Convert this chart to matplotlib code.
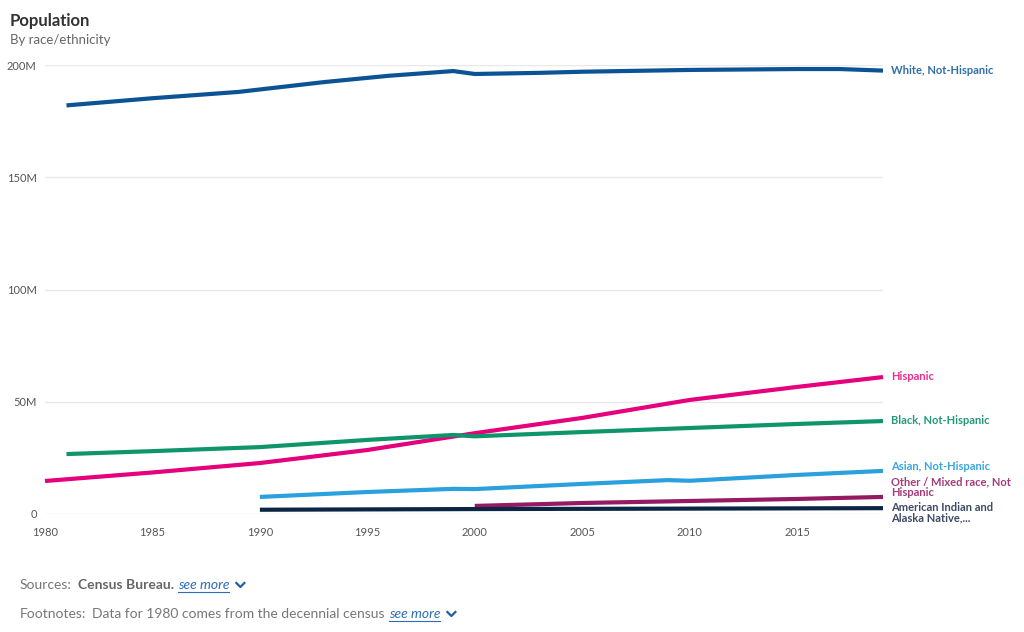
import matplotlib
matplotlib.use("Agg")
import matplotlib.pyplot as plt
from matplotlib.lines import Line2D

plt.rcParams['font.family'] = ['Lato', 'DejaVu Sans']

# population in millions
white_years = [1981, 1985, 1989, 1993, 1996, 1999, 2000, 2003, 2005, 2010, 2015, 2017, 2019]
white_vals = [182.0, 185.2, 188.0, 192.4, 195.2, 197.3, 196.0, 196.5, 197.0, 197.8, 198.2, 198.2, 197.5]

hisp_years = [1980, 1985, 1990, 1995, 2000, 2005, 2010, 2015, 2019]
hisp_vals = [14.7, 18.5, 22.7, 28.5, 36.0, 42.8, 50.8, 56.6, 61.0]

black_years = [1981, 1985, 1990, 1995, 1999, 2000, 2005, 2010, 2015, 2019]
black_vals = [26.7, 28.0, 29.8, 33.0, 35.2, 34.6, 36.5, 38.3, 40.1, 41.4]

asian_years = [1990, 1995, 1999, 2000, 2005, 2009, 2010, 2015, 2019]
asian_vals = [7.6, 9.8, 11.2, 11.1, 13.4, 15.1, 14.8, 17.4, 19.2]

other_years = [2000, 2005, 2010, 2015, 2019]
other_vals = [3.6, 4.9, 5.8, 6.7, 7.6]

amind_years = [1990, 2000, 2010, 2019]
amind_vals = [1.9, 2.2, 2.4, 2.6]

series = [
    ("White, Not-Hispanic", white_years, white_vals, "#0b5394", "#2f6ea8", [70]),
    ("Hispanic", hisp_years, hisp_vals, "#e5007d", "#e8308f", [377]),
    ("Black, Not-Hispanic", black_years, black_vals, "#0f956a", "#22997a", [421]),
    ("Asian, Not-Hispanic", asian_years, asian_vals, "#2aa0dc", "#3aa5dd", [467]),
    ("Other / Mixed race, Not\nHispanic", other_years, other_vals, "#961a63", "#a53a7b", [487]),
    ("American Indian and\nAlaska Native,...", amind_years, amind_vals, "#0b2545", "#3b4a66", [513]),
]

W, H = 1024, 632
fig = plt.figure(figsize=(W / 100, H / 100), dpi=100)
ax = fig.add_axes([45 / W, (H - 514) / H, (883 - 45) / W, (514 - 65) / H])

for name, xs, ys, c, tc, ly in series:
    ax.plot(xs, ys, color=c, lw=3, solid_capstyle='butt', clip_on=False, zorder=3)
    fig.text(891 / W, 1 - ly[0] / H, name, color=tc, fontsize=8, fontweight='bold',
             va='center', ha='left', linespacing=0.95)

ax.set_xlim(1980, 2019)
ax.set_ylim(0, 200)
ax.set_yticks([0, 50, 100, 150, 200])
ax.set_yticklabels(["0", "50M", "100M", "150M", "200M"])
ax.set_xticks([1980, 1985, 1990, 1995, 2000, 2005, 2010, 2015])
ax.grid(axis='y', color='#e8e8e8', lw=1)
ax.set_axisbelow(True)
for s in ax.spines.values():
    s.set_visible(False)
ax.tick_params(length=0, labelsize=8, colors='#555555')
ax.tick_params(axis='y', pad=6)
ax.tick_params(axis='x', pad=9)

fig.text(10 / W, 1 - 21 / H, "Population", fontsize=12, color='#333333', va='center',
         fontweight='bold')
fig.text(10 / W, 1 - 40 / H, "By race/ethnicity", fontsize=9.5, color='#666666', va='center')

# footer rows built piece by piece
fig.canvas.draw()
r = fig.canvas.get_renderer()


def row(y, parts):
    x = 20
    for txt, kw, gap in parts:
        t = fig.text(x / W, 1 - y / H, txt, va='center', ha='left', fontsize=10, **kw)
        bb = t.get_window_extent(r)
        if kw.get('color') == '#2a6ebb':
            fig.add_artist(Line2D([x / W, (x + bb.width) / W], [1 - (y + 7) / H] * 2,
                                  color='#2a6ebb', lw=0.8))
        x += bb.width + gap
    # chevron
    cx = x + 5
    fig.add_artist(Line2D([cx / W, (cx + 4) / W, (cx + 8) / W],
                          [1 - (y - 2) / H, 1 - (y + 2) / H, 1 - (y - 2) / H],
                          color='#1f5fa8', lw=1.6))


row(585, [("Sources:", dict(color='#777777'), 6),
          ("Census Bureau.", dict(color='#666666', fontweight='bold'), 4),
          ("see more", dict(color='#2a6ebb', style='italic'), 2)])
row(614, [("Footnotes:", dict(color='#777777'), 6),
          ("Data for 1980 comes from the decennial census", dict(color='#777777'), 4),
          ("see more", dict(color='#2a6ebb', style='italic'), 2)])

fig.savefig("out.png", dpi=100)
